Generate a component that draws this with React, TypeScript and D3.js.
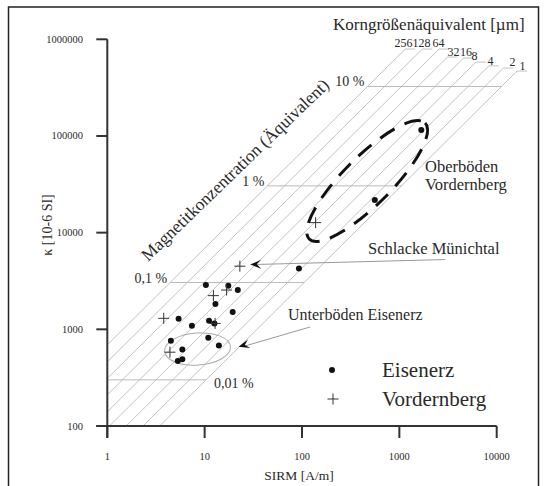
import React from "react";
import * as d3 from "d3";

const SIRM_TICKS = [1, 10, 100, 1000, 10000];
const KAPPA_TICKS = [100, 1000, 10000, 100000, 1000000];

// Eisenerz (dots)
const eisenerzSirm = [10.3, 17.5, 21.9, 12.9, 19.4, 5.4, 7.4, 11.1, 12.6, 10.9, 4.5, 14.0, 5.9, 5.3, 5.9, 93, 560, 1680];
const eisenerzKappa = [2870, 2830, 2550, 1830, 1510, 1290, 1090, 1230, 1150, 820, 760, 680, 620, 470, 490, 4270, 21700, 115000];

// Vordernberg (plus)
const vordernbergSirm = [23, 12.3, 16.8, 3.8, 12.8, 4.4, 138];
const vordernbergKappa = [4500, 2230, 2550, 1300, 1150, 580, 12700];

// grain-size equivalent lines (kappa / SIRM ratio) and their upper ends
const grainSizes = ["256", "128", "64", "32", "16", "8", "4", "2", "1"];
const grainRatio = [690, 460, 310, 210, 140, 95, 64, 43, 29];
const grainTopKappa = [793000, 793000, 793000, 655000, 640000, 581000, 532000, 504000, 469000];

// magnetite concentration lines
const concLabels = ["0,01 %", "0,1 %", "1 %", "10 %"];
const concKappa = [300, 3050, 30500, 325000];

// layout of the grain-size labels (pixels)
const GRAIN_LABEL_X = [403.5, 421.5, 438.5, 453.5, 466, 474.5, 490.5, 512.5, 522.5];
const GRAIN_LABEL_Y = [47, 47, 47, 56, 56, 60, 65, 66, 70];

const FONT = "'Liberation Serif', 'Times New Roman', serif";
const INK = "#2a2a2a";
const GRID = "#b4b4b4";

export default function App() {
  const x = d3.scaleLog().domain([1, 10000]).range([107.3, 496.7]);
  const y = d3.scaleLog().domain([100, 1000000]).range([426, 39.3]);
  const x0 = x(1);
  const y0 = y(100);

  const maxR = grainRatio[0];
  const minR = grainRatio[grainRatio.length - 1];

  const grainLines = grainRatio.map((r, i) => {
    let s0: number, k0: number;
    if (r >= 100) {
      s0 = 1;
      k0 = r;
    } else {
      k0 = 100;
      s0 = 100 / r;
    }
    const kt = grainTopKappa[i];
    const st = kt / r;
    return { x1: x(s0), y1: y(k0), x2: x(st), y2: y(kt), label: grainSizes[i] };
  });

  const concLines = concKappa.map((k, i) => {
    const s1 = Math.max(1, k / maxR);
    const s2 = k / minR;
    return { x1: x(s1), x2: x(s2), y: y(k), label: concLabels[i] };
  });

  // annotation anchors in data space
  const oberCenter = [x(467), y(34200)];
  const unterCenter = [x(8.45), y(625)];
  const schlTip = [x(29.4), y(4680)];
  const schlTail = [x(2958), y(5270)];
  const unterTip = [x(22.3), y(661)];
  const unterTail = [x(121), y(1057)];

  const arrowHead = (tx: number, ty: number, ang: number) => {
    const c = Math.cos(ang), s = Math.sin(ang);
    const pt = (u: number, v: number) => [tx + u * c - v * s, ty + u * s + v * c];
    const a = pt(11, -4.5), b = pt(6.5, 0), d = pt(11, 4.5);
    return `M${tx},${ty}L${a[0]},${a[1]}L${b[0]},${b[1]}L${d[0]},${d[1]}Z`;
  };

  const plus = (cx: number, cy: number, h: number) =>
    `M${cx - h},${cy}H${cx + h}M${cx},${cy - h}V${cy + h}`;

  return (
    <svg
      width={545}
      height={486}
      style={{ position: "absolute", left: 0, top: 0, background: "#fff" }}
      fontFamily={FONT}
    >
      <rect x={0} y={0} width={545} height={486} fill="#fff" />
      {/* frame */}
      <path d="M8.5,500V7H538.5V500" fill="none" stroke="#222" strokeWidth={1.5} />

      {/* grain size lines */}
      {grainLines.map((g, i) => (
        <g key={"g" + i}>
          <line x1={g.x1} y1={g.y1} x2={g.x2} y2={g.y2} stroke={GRID} strokeWidth={0.8} />
          <line x1={g.x2} y1={g.y2} x2={g.x2 + 10} y2={g.y2} stroke={GRID} strokeWidth={0.8} />
          <text x={GRAIN_LABEL_X[i]} y={GRAIN_LABEL_Y[i]} fontSize={12} textAnchor="middle" fill={INK}>
            {g.label}
          </text>
        </g>
      ))}

      {/* concentration lines */}
      {concLines.map((c, i) => (
        <g key={"c" + i}>
          <line x1={c.x1} y1={c.y} x2={c.x2} y2={c.y} stroke={GRID} strokeWidth={0.9} />
          {i === 0 ? (
            <text x={c.x2 + 8} y={c.y + 8} fontSize={14} fill={INK}>
              {c.label}
            </text>
          ) : (
            <text x={c.x1 - 3} y={c.y} fontSize={14} textAnchor="end" fill={INK}>
              {c.label}
            </text>
          )}
        </g>
      ))}

      <text x={333} y={30} fontSize={17} fill={INK}>
        Korngrößenäquivalent [µm]
      </text>

      <text transform={`translate(148,262) rotate(-44)`} fontSize={17.5} fill={INK}>
        Magnetitkonzentration (Äquivalent)
      </text>

      {/* Oberböden dashed ellipse */}
      <ellipse
        cx={0}
        cy={0}
        rx={82}
        ry={24}
        transform={`translate(${oberCenter[0]},${oberCenter[1]}) rotate(-45)`}
        fill="none"
        stroke="#111"
        strokeWidth={3}
        strokeDasharray="17 11"
      />
      {/* Unterböden ellipse */}
      <ellipse
        cx={0}
        cy={0}
        rx={33}
        ry={16}
        transform={`translate(${unterCenter[0]},${unterCenter[1]}) rotate(-4)`}
        fill="none"
        stroke="#aaa"
        strokeWidth={1}
      />

      {/* arrows */}
      <line x1={schlTail[0]} y1={schlTail[1]} x2={schlTip[0] + 4} y2={schlTip[1]} stroke="#999" strokeWidth={1} />
      <path
        d={arrowHead(schlTip[0], schlTip[1], Math.atan2(schlTail[1] - schlTip[1], schlTail[0] - schlTip[0]))}
        fill="#111"
      />
      <line x1={unterTail[0]} y1={unterTail[1]} x2={unterTip[0] + 4} y2={unterTip[1]} stroke="#999" strokeWidth={1} />
      <path
        d={arrowHead(unterTip[0], unterTip[1], Math.atan2(unterTail[1] - unterTip[1], unterTail[0] - unterTip[0]))}
        fill="#111"
      />

      {/* annotation labels */}
      <text x={425} y={172} fontSize={16.5} fill={INK}>Oberböden</text>
      <text x={425} y={190} fontSize={16.5} fill={INK}>Vordernberg</text>
      <text x={368} y={254} fontSize={16.5} fill={INK}>Schlacke Münichtal</text>
      <text x={288} y={320} fontSize={16} fill={INK}>Unterböden Eisenerz</text>

      {/* data */}
      {eisenerzSirm.map((s, i) => (
        <circle key={"e" + i} cx={x(s)} cy={y(eisenerzKappa[i])} r={3} fill="#111" />
      ))}
      {vordernbergSirm.map((s, i) => (
        <path key={"v" + i} d={plus(x(s), y(vordernbergKappa[i]), 5.5)} stroke="#333" strokeWidth={1} fill="none" />
      ))}

      {/* legend */}
      <circle cx={332} cy={370} r={3} fill="#111" />
      <text x={382} y={377} fontSize={21} fill={INK}>Eisenerz</text>
      <path d={plus(333, 399, 5.5)} stroke="#333" strokeWidth={1} fill="none" />
      <text x={382} y={406} fontSize={21} fill={INK}>Vordernberg</text>

      {/* axes */}
      <line x1={x0} y1={y(1000000)} x2={x0} y2={y0 + 12} stroke="#333" strokeWidth={2} />
      <line x1={x0 - 11} y1={y0} x2={x(10000)} y2={y0} stroke="#333" strokeWidth={2} />
      {KAPPA_TICKS.map((k) => (
        <g key={"yk" + k}>
          <line x1={x0 - 11} x2={x0} y1={y(k)} y2={y(k)} stroke="#333" strokeWidth={2} />
          <text x={83} y={y(k) + 3.5} fontSize={10.5} textAnchor="end" fill={INK}>
            {k}
          </text>
        </g>
      ))}
      {SIRM_TICKS.map((s) => (
        <g key={"xk" + s}>
          <line x1={x(s)} x2={x(s)} y1={y0} y2={y0 + 12} stroke="#333" strokeWidth={2} />
          <text x={x(s)} y={460} fontSize={10.5} textAnchor="middle" fill={INK}>
            {s}
          </text>
        </g>
      ))}
      <text x={299} y={480} fontSize={13.5} textAnchor="middle" fill={INK}>
        SIRM [A/m]
      </text>
      <text transform={`translate(52,225) rotate(-90)`} fontSize={14} textAnchor="middle" fill={INK}>
        κ [10-6 SI]
      </text>
    </svg>
  );
}
